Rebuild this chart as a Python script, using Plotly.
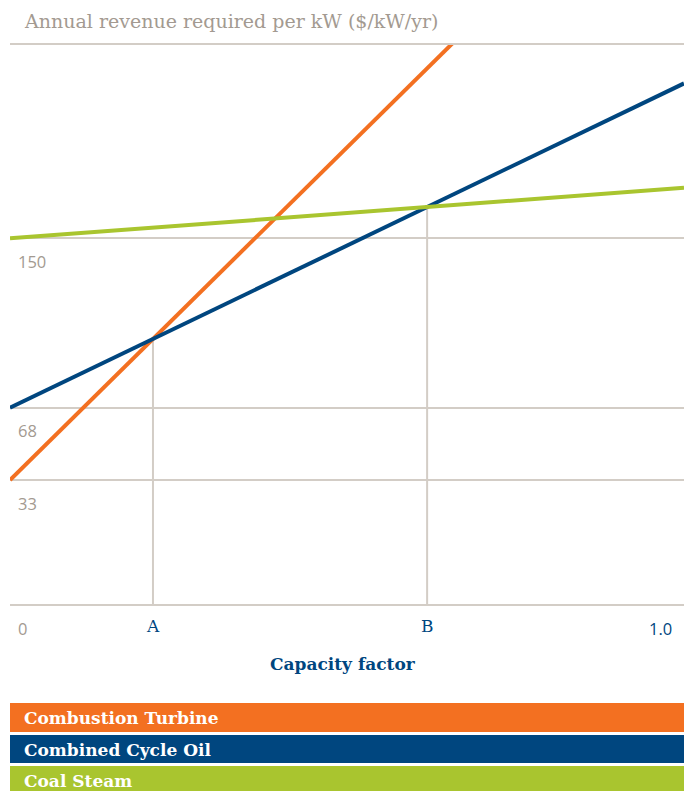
import plotly.graph_objects as go

# Series: intercept ($/kW/yr at zero capacity factor) and slope per unit capacity factor
series_names = ["Combustion Turbine", "Combined Cycle Oil", "Coal Steam"]
series_colors = ["#f37021", "#00467f", "#a9c52f"]
intercepts = [33, 68, 150]
slopes = [322, 157, 24.5]

# Axis labels
y_tick_vals = [150, 68, 33]
y_tick_text = ["150", "68", "33"]
x_ends = [0.0, 1.0]
x_end_text = ["0", "1.0"]
crossing_labels = ["A", "B"]

Y_MIN, Y_MAX = -27.0, 243.6
GRID = "#d3cdc6"
TAN = "#a39a91"
NAVY = "#00467f"
SERIF = "DejaVu Serif"
SANS = "Open Sans"

fig = go.Figure()

# Crossing points: CT/CCO (A) and CCO/Coal (B)
xa = (intercepts[1] - intercepts[0]) / (slopes[0] - slopes[1])
xb = (intercepts[2] - intercepts[1]) / (slopes[1] - slopes[2])
ya = intercepts[1] + slopes[1] * xa
yb = intercepts[1] + slopes[1] * xb
crossings_x = [xa, xb]
crossings_y = [ya, yb]

# Drop lines from crossings to the axis
for cx, cy in zip(crossings_x, crossings_y):
    fig.add_trace(go.Scatter(x=[cx, cx], y=[Y_MIN, cy], mode="lines",
                             line=dict(color=GRID, width=2), hoverinfo="skip",
                             showlegend=False))

# Revenue lines
for name, color, b, m in zip(series_names, series_colors, intercepts, slopes):
    fig.add_trace(go.Scatter(x=x_ends, y=[b, b + m * x_ends[1]], mode="lines",
                             name=name, line=dict(color=color, width=4),
                             showlegend=False, cliponaxis=True))

annotations = []
# Y labels below their gridlines
for v, t in zip(y_tick_vals, y_tick_text):
    annotations.append(dict(x=0, xref="paper", y=v, yref="y", text=t,
                            xanchor="left", yanchor="middle", xshift=6, yshift=-23,
                            showarrow=False, font=dict(family=SANS, size=16.5, color=TAN)))
# X labels
annotations.append(dict(x=x_ends[0], xref="x", y=0, yref="paper", text=x_end_text[0],
                        xanchor="center", yanchor="middle", xshift=12, yshift=-24,
                        showarrow=False, font=dict(family=SANS, size=16.5, color=TAN)))
annotations.append(dict(x=x_ends[1], xref="x", y=0, yref="paper", text=x_end_text[1],
                        xanchor="right", yanchor="middle", xshift=-10, yshift=-24,
                        showarrow=False, font=dict(family=SANS, size=16.5, color=NAVY)))
for cx, t in zip(crossings_x, crossing_labels):
    annotations.append(dict(x=cx, xref="x", y=0, yref="paper", text=t,
                            xanchor="center", yanchor="middle", yshift=-22,
                            showarrow=False, font=dict(family=SERIF, size=17, color=NAVY)))

# Axis titles
annotations.append(dict(x=0.0178, xref="paper", y=1.0, yref="paper",
                        text="Annual revenue required per kW ($/kW/yr)",
                        xanchor="left", yanchor="middle", yshift=24, showarrow=False,
                        font=dict(family=SERIF, size=19, color=TAN)))
annotations.append(dict(x=0.494, xref="paper", y=-0.107, yref="paper",
                        text="<b>Capacity factor</b>", xanchor="center", yanchor="middle",
                        showarrow=False, font=dict(family=SERIF, size=17, color=NAVY)))

# Key: full-width coloured bands
band_tops = [-0.1771, -0.2343, -0.2898]
band_bottoms = [-0.2290, -0.2844, -0.3400]
text_centers = [-0.2040, -0.2610, -0.3165]
shapes = []
for name, color, top, bot, yc in zip(series_names, series_colors, band_tops,
                                     band_bottoms, text_centers):
    shapes.append(dict(type="rect", xref="paper", yref="paper", x0=0, x1=1,
                       y0=bot, y1=top, fillcolor=color, line=dict(width=0), layer="above"))
    annotations.append(dict(x=0.0178, xref="paper", y=yc, yref="paper",
                            text=f"<b>{name}</b>", xanchor="left", yanchor="middle",
                            showarrow=False, font=dict(family=SERIF, size=17, color="white")))

fig.update_layout(
    width=684, height=791,
    margin=dict(l=10, r=0, t=45, b=187),
    paper_bgcolor="white", plot_bgcolor="white",
    xaxis=dict(range=[0, 1], showgrid=False, zeroline=False, showticklabels=False,
               ticks="", showline=True, linecolor=GRID, linewidth=2, mirror=True,
               fixedrange=True),
    yaxis=dict(range=[Y_MIN, Y_MAX], tickvals=y_tick_vals, showgrid=True,
               gridcolor=GRID, gridwidth=2, zeroline=False, showticklabels=False,
               ticks="", showline=False, fixedrange=True),
    annotations=annotations,
    shapes=shapes,
    showlegend=False,
)

fig.write_html("out.html")
